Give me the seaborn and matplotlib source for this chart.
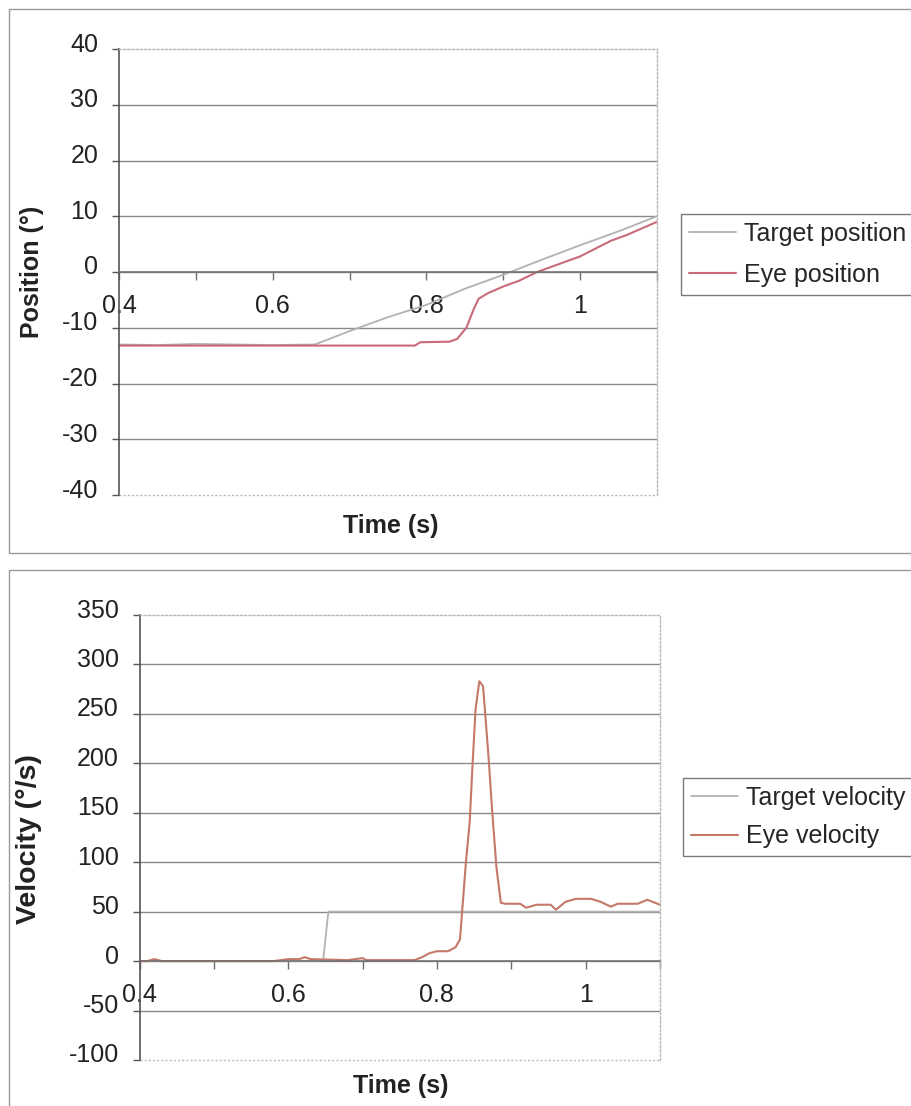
import matplotlib
matplotlib.use("Agg")
import matplotlib.pyplot as plt
import matplotlib.transforms as mtransforms
from matplotlib.patches import Rectangle
from matplotlib.ticker import FixedLocator, MultipleLocator
import seaborn as sns

# ---- data ----
pos_t_target = [0.400, 0.450, 0.500, 0.550, 0.600, 0.655, 0.700, 0.750, 0.800,
                0.850, 0.900, 0.950, 1.000, 1.050, 1.100]
pos_target = [-13.0, -13.1, -12.9, -13.0, -13.1, -13.0, -10.6, -8.1, -5.9,
              -3.0, -0.5, 2.2, 4.8, 7.3, 10.0]

pos_t_eye = [0.400, 0.500, 0.600, 0.700, 0.785, 0.792, 0.830, 0.840, 0.852,
             0.862, 0.868, 0.880, 0.900, 0.920, 0.944, 0.970, 1.000, 1.040,
             1.060, 1.080, 1.100]
pos_eye = [-13.2, -13.2, -13.2, -13.2, -13.2, -12.6, -12.5, -12.0, -10.0,
           -6.5, -4.8, -3.8, -2.6, -1.6, 0.0, 1.3, 2.8, 5.6, 6.6, 7.8, 9.0]

vel_t_target = [0.400, 0.500, 0.600, 0.640, 0.647, 0.654, 0.700, 0.800, 0.900,
                1.000, 1.100]
vel_target = [0, 0, 0, 0, 1, 50, 50, 50, 50, 50, 50]

vel_t_eye = [0.400, 0.410, 0.420, 0.430, 0.500, 0.580, 0.600, 0.615, 0.622,
             0.630, 0.680, 0.700, 0.705, 0.720, 0.770, 0.780, 0.790, 0.800,
             0.815, 0.825, 0.831, 0.839, 0.844, 0.848, 0.852, 0.857, 0.862,
             0.866, 0.870, 0.874, 0.880, 0.886, 0.892, 0.912, 0.920, 0.934,
             0.953, 0.960, 0.973, 0.987, 1.007, 1.020, 1.034, 1.043, 1.070,
             1.083, 1.100]
vel_eye = [0, 0, 2, 0, 0, 0, 2, 2, 4, 2, 1, 3, 1, 1, 1, 4, 8, 10, 10, 14, 22,
           100, 140, 200, 255, 283, 278, 240, 200, 155, 95, 59, 58, 58, 54, 57,
           57, 52, 60, 63, 63, 60, 55, 58, 58, 62, 57]

x_major = [0.4, 0.6, 0.8, 1.0]
pos_ticks = [-40, -30, -20, -10, 0, 10, 20, 30, 40]
vel_ticks = [-100, -50, 0, 50, 100, 150, 200, 250, 300, 350]

W, H = 911, 1106
C_TARGET = "#b2b2b2"
C_EYE_POS = "#c96a7a"
C_EYE_VEL = "#c47868"

sns.set_theme(style="white")
plt.rcParams["font.family"] = ["Liberation Sans", "DejaVu Sans"]
plt.rcParams["axes.unicode_minus"] = False

fig = plt.figure(figsize=(W / 100, H / 100), dpi=100)
fig.patch.set_facecolor("white")


def px_axes(left, top, right, bottom):
    return fig.add_axes([left / W, 1 - bottom / H, (right - left) / W, (bottom - top) / H])


def style_axes(ax, yticks):
    ax.set_facecolor("white")
    ax.set_xlim(0.4, 1.1)
    ax.set_ylim(yticks[0], yticks[-1])
    ax.xaxis.set_major_locator(FixedLocator(x_major))
    ax.xaxis.set_minor_locator(MultipleLocator(0.1))
    ax.xaxis.set_major_formatter(lambda v, p: f"{v:g}")
    ax.yaxis.set_major_locator(FixedLocator(yticks))
    ax.yaxis.set_major_formatter(lambda v, p: f"{v:g}")

    ax.grid(axis="y", color="#8a8a8a", lw=1.0)
    ax.grid(axis="x", visible=False)
    for line, v in zip(ax.get_ygridlines(), yticks):
        if v in (yticks[0], yticks[-1]):
            line.set_visible(False)

    ax.spines["left"].set_color("#555555")
    ax.spines["left"].set_linewidth(1.2)
    ax.spines["bottom"].set_position(("data", 0))
    ax.spines["bottom"].set_color("#6e6e6e")
    ax.spines["bottom"].set_linewidth(1.1)
    for s in ("top", "right"):
        ax.spines[s].set_color("#b8b8b8")
        ax.spines[s].set_linestyle((0, (1.5, 1.5)))
        ax.spines[s].set_linewidth(1.0)
    ax.plot([0, 1], [0, 0], transform=ax.transAxes, color="#b8b8b8",
            lw=1.0, ls=(0, (1.5, 1.5)), clip_on=False)

    ax.tick_params(axis="x", which="both", direction="out", length=5.5, width=1,
                   color="#6e6e6e", pad=10, labelsize=18, labelcolor="#222222",
                   bottom=True)
    ax.tick_params(axis="y", direction="out", length=5, width=1, color="#555555",
                   pad=10, labelsize=18, labelcolor="#222222", left=True)

    # Excel draws value labels a little above their gridlines
    offset = mtransforms.ScaledTranslation(0, 7 / 100, fig.dpi_scale_trans)
    for lab in ax.get_yticklabels():
        lab.set_transform(lab.get_transform() + offset)


# ---- top: position ----
ax1 = px_axes(119, 49, 657, 495)
sns.lineplot(x=pos_t_target, y=pos_target, ax=ax1, color=C_TARGET, lw=1.3,
             label="Target position", estimator=None)
sns.lineplot(x=pos_t_eye, y=pos_eye, ax=ax1, color=C_EYE_POS, lw=1.5,
             label="Eye position", estimator=None)
style_axes(ax1, pos_ticks)
ax1.set_xlabel("Time (s)", fontsize=18, fontweight="bold", color="#222222", va="top")
ax1.set_ylabel("Position (°)", fontsize=18, fontweight="bold", color="#222222")
ax1.xaxis.set_label_coords(0.505, -0.043)
ax1.yaxis.set_label_coords(-0.14, 0.5)
h, l = ax1.get_legend_handles_labels()
ax1.get_legend().remove()
fig.legend(h, l, loc="upper left", bbox_to_anchor=(681 / W, 1 - 214 / H),
           frameon=True, fancybox=False, edgecolor="#7a7a7a", framealpha=1,
           fontsize=18, handlelength=1.9, handletextpad=0.3, borderpad=0.3,
           labelspacing=0.7, borderaxespad=0)

# ---- bottom: velocity ----
ax2 = px_axes(139.5, 615, 660, 1060)
sns.lineplot(x=vel_t_target, y=vel_target, ax=ax2, color=C_TARGET, lw=1.3,
             label="Target velocity", estimator=None)
sns.lineplot(x=vel_t_eye, y=vel_eye, ax=ax2, color=C_EYE_VEL, lw=1.5,
             label="Eye velocity", estimator=None)
style_axes(ax2, vel_ticks)
ax2.set_xlabel("Time (s)", fontsize=18, fontweight="bold", color="#222222", va="top")
ax2.set_ylabel("Velocity (°/s)", fontsize=20.5, fontweight="bold", color="#222222")
ax2.xaxis.set_label_coords(0.502, -0.031)
ax2.yaxis.set_label_coords(-0.188, 0.497)
h, l = ax2.get_legend_handles_labels()
ax2.get_legend().remove()
fig.legend(h, l, loc="upper left", bbox_to_anchor=(683 / W, 1 - 778 / H),
           frameon=True, fancybox=False, edgecolor="#7a7a7a", framealpha=1,
           fontsize=18, handlelength=1.9, handletextpad=0.3, borderpad=0.3,
           labelspacing=0.6, borderaxespad=0)

# chart-area borders
fig.patches.append(Rectangle((9 / W, 1 - 553 / H), 1.0, (553 - 9) / H,
                             transform=fig.transFigure, fill=False,
                             ec="#9a9a9a", lw=1.0))
fig.patches.append(Rectangle((9 / W, -0.01), 1.0, (H - 570) / H + 0.01,
                             transform=fig.transFigure, fill=False,
                             ec="#9a9a9a", lw=1.0))

fig.savefig("out.png", dpi=100)
